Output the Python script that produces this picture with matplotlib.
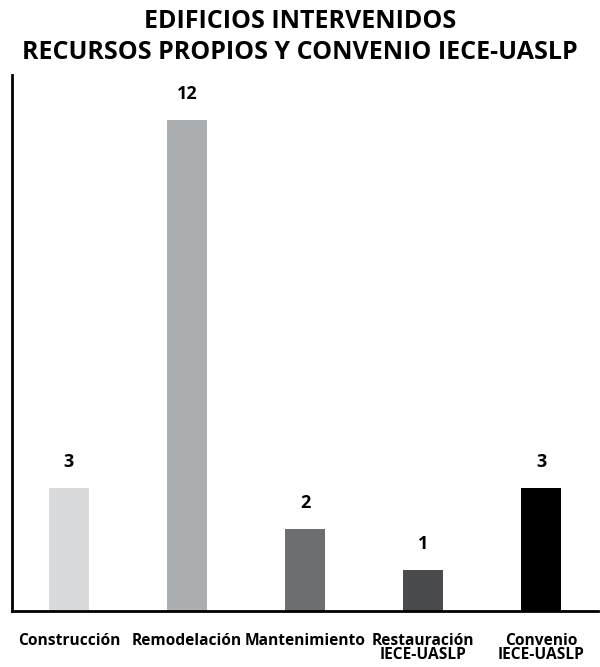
import matplotlib.pyplot as plt
import numpy as np

plt.rcParams['font.family'] = ['Open Sans', 'DejaVu Sans']

categorias = ['Construcción', 'Remodelación', 'Mantenimiento', 'Restauración\nIECE-UASLP', 'Convenio\nIECE-UASLP']
valores = [3, 12, 2, 1, 3]
colores = ['#d9dadb', '#abaeb0', '#6d6e70', '#4a4b4d', '#000000']

fig = plt.figure(figsize=(6, 6.67), dpi=100)
ax = fig.add_axes([12/600, 1-611/667, 586/600, (611-75)/667])

x = np.arange(len(categorias))
bars = ax.bar(x, valores, width=0.34, color=colores)
for xi, v in zip(x, valores):
	ax.text(xi, v + 0.42, str(v), ha='center', va='bottom', fontsize=13, fontweight='bold')

ax.set_xlim(-0.483, 4.483)
ax.set_ylim(0, 13.1)
ax.set_xticks(x)
ax.set_xticklabels(categorias, fontsize=11.2, fontweight='bold', linespacing=0.85)
ax.tick_params(axis='x', length=0, pad=16)
ax.set_yticks([])
ax.spines['top'].set_visible(False)
ax.spines['right'].set_visible(False)
ax.spines['left'].set_linewidth(2)
ax.spines['bottom'].set_linewidth(2)

fig.text(0.5, 1-9/667, 'EDIFICIOS INTERVENIDOS\nRECURSOS PROPIOS Y CONVENIO IECE-UASLP',
	ha='center', va='top', fontsize=18, fontweight='bold', linespacing=1.3)

fig.savefig('out.png', dpi=100)
